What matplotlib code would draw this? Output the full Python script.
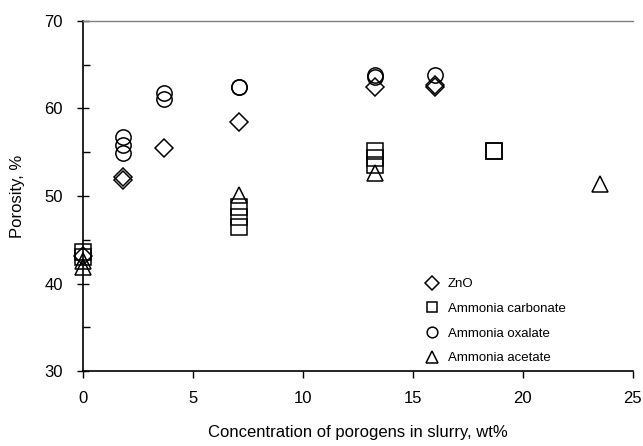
import matplotlib.pyplot as plt

plt.rcParams['font.family'] = ['Liberation Sans', 'DejaVu Sans']

# porogen concentration (wt%) and porosity (%) for each porogen
zno_x = [0, 1.8, 1.8, 3.7, 7.1, 13.3, 16.0, 16.0]
zno_y = [43.2, 52.2, 51.8, 55.5, 58.5, 62.4, 62.5, 62.7]

carb_x = [0, 0, 7.1, 7.1, 7.1, 13.3, 13.3, 13.3, 18.7, 18.7]
carb_y = [43.6, 43.0, 48.8, 47.6, 46.5, 55.1, 54.3, 53.6, 55.2, 55.1]

oxal_x = [1.8, 1.8, 1.8, 3.7, 3.7, 7.1, 7.1, 13.3, 13.3, 16.0]
oxal_y = [56.7, 55.8, 54.9, 61.8, 61.1, 62.5, 62.4, 63.8, 63.6, 63.8]

acet_x = [0, 0, 7.1, 13.3, 23.5]
acet_y = [42.6, 41.9, 50.1, 52.6, 51.4]

fig = plt.figure(figsize=(6.43, 4.46), dpi=100)
ax = fig.add_axes([0.129, 0.168, 0.855, 0.785])

style = dict(linestyle='none', markerfacecolor='none', markeredgecolor='black',
             markeredgewidth=1.1)
ax.plot(zno_x, zno_y, marker='D', markersize=9.5, label='ZnO', **style)
ax.plot(carb_x, carb_y, marker='s', markersize=11, label='Ammonia carbonate', **style)
ax.plot(oxal_x, oxal_y, marker='o', markersize=11, label='Ammonia oxalate', **style)
ax.plot(acet_x, acet_y, marker='^', markersize=12, label='Ammonia acetate', **style)

ax.set_xlim(0, 25)
ax.set_ylim(30, 70)
ax.set_xticks([0, 5, 10, 15, 20, 25])
ax.set_yticks([30, 40, 50, 60, 70])
ax.set_yticks([35, 45, 55, 65], minor=True)
ax.tick_params(axis='both', labelsize=12, length=5, width=1)
ax.tick_params(axis='x', pad=9)
ax.tick_params(axis='y', direction='inout', length=9, pad=10)
ax.tick_params(axis='y', which='minor', direction='in', length=5, width=1)

for name in ['left', 'bottom']:
    ax.spines[name].set_linewidth(1.2)
ax.spines['right'].set_visible(False)
ax.spines['top'].set_color('#808080')
ax.spines['top'].set_linewidth(1)

ax.set_xlabel('Concentration of porogens in slurry, wt%', fontsize=12, labelpad=14)
ax.set_ylabel('Porosity, %', fontsize=12, labelpad=14)

for line in ax.get_lines():
    line.set_clip_on(False)

ax.legend(loc='lower right', bbox_to_anchor=(0.9, -0.015), frameon=False,
          fontsize=9.5, markerscale=0.7, handlelength=1.2, handletextpad=0.6,
          labelspacing=0.95)

fig.savefig('out.png', dpi=100)
